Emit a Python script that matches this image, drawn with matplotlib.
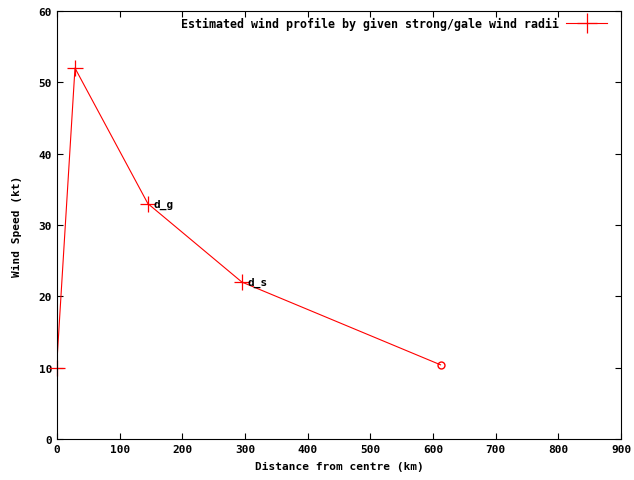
import matplotlib
matplotlib.use("Agg")
import matplotlib.pyplot as plt
from matplotlib.lines import Line2D

# wind profile line
dist = [0, 28.7, 145, 295, 612]
speed = [11, 52, 33, 22, 10.4]
# marked points
mark_x = [0, 28.7, 145, 295]
mark_y = [10, 52, 33, 22]
labels = {"d_g": (145, 33), "d_s": (295, 22)}

plt.rcParams['font.family'] = ['DejaVu Sans Mono']
plt.rcParams['font.weight'] = 'bold'

fig = plt.figure(figsize=(6.34, 4.81), dpi=100)
ax = fig.add_axes([57/634, 41/481, 564/634, 428/481])

ax.plot(dist, speed, color='red', lw=0.8)
ax.plot(mark_x, mark_y, '+', color='red', ms=12, mew=0.9, ls='none', clip_on=False)
ax.plot([dist[-1]], [speed[-1]], 'o', mfc='none', mec='red', ms=5, mew=1)

for name, (x, y) in labels.items():
    ax.text(x + 9, y, name, fontsize=8, fontweight='bold', va='center')

ax.set_xlim(0, 900)
ax.set_ylim(0, 60)
ax.set_xticks(range(0, 901, 100))
ax.set_yticks(range(0, 61, 10))
ax.tick_params(direction='in', top=True, right=True, labelsize=8, length=4)
ax.set_xlabel("Distance from centre (km)", fontsize=8, fontweight='bold', labelpad=5)
ax.set_ylabel("Wind Speed (kt)", fontsize=8, fontweight='bold', labelpad=12)

h = Line2D([], [], color='red', marker='+', ms=14, lw=0.8, mew=0.9)
ax.legend([h], ["Estimated wind profile by given strong/gale wind radii"],
          loc='upper right', bbox_to_anchor=(1, 1.018), frameon=False,
          markerfirst=False, fontsize=8.4,
          handlelength=3.5, handletextpad=0.6, borderaxespad=0.8)

fig.savefig("out.png", dpi=100)
